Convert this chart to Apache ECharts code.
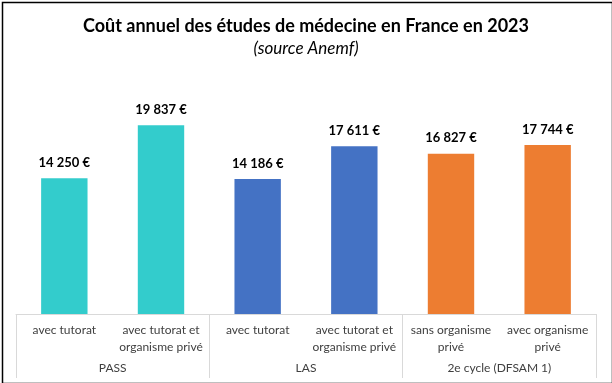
<!DOCTYPE html>
<html><head><meta charset="utf-8">
<script src="https://cdn.jsdelivr.net/npm/echarts@6/dist/echarts.min.js"></script>
<style>html,body{margin:0;padding:0;background:#fff}#c{width:612px;height:383px}</style>
</head><body><div id="c"></div>
<script>
var categories = ['avec tutorat', 'avec tutorat et\norganisme privé', 'avec tutorat', 'avec tutorat et\norganisme privé', 'sans organisme\nprivé', 'avec organisme\nprivé'];
var groups = ['PASS', 'LAS', '2e cycle (DFSAM 1)'];
var values = [14250, 19837, 14186, 17611, 16827, 17744];
var barColors = ['#33CCCC', '#33CCCC', '#4472C4', '#4472C4', '#ED7D31', '#ED7D31'];

function fmt(v) {
  return String(v).replace(/\B(?=(\d{3})+(?!\d))/g, ' ') + ' €';
}
var font = 'Lato';
var chart = echarts.init(document.getElementById('c'));
chart.setOption({
  animation: false,
  title: {
    text: 'Coût annuel des études de médecine en France en 2023',
    subtext: '(source Anemf)',
    left: 'center', top: 12, itemGap: 5,
    textStyle: {fontFamily: font, fontWeight: 'bold', fontSize: 18, color: '#000'},
    subtextStyle: {fontFamily: font, fontStyle: 'italic', fontSize: 17, color: '#000'}
  },
  grid: {left: 16, right: 16, top: 76, bottom: 69, containLabel: false},
  xAxis: [{
    type: 'category', data: categories,
    axisLine: {show: true, lineStyle: {color: '#D9D9D9', width: 1}},
    axisTick: {show: false},
    axisLabel: {fontFamily: font, fontSize: 12, color: '#404040', margin: 8, lineHeight: 17, interval: 0}
  }, {
    type: 'category', data: groups, position: 'bottom',
    axisLine: {show: false},
    axisTick: {show: true, length: 64, lineStyle: {color: '#D9D9D9'}},
    axisLabel: {fontFamily: font, fontSize: 12, color: '#404040', margin: 48, interval: 0}
  }],
  yAxis: {type: 'value', min: 0, max: 25000, show: false, splitLine: {show: false}},
  series: [{
    type: 'bar', xAxisIndex: 0, barWidth: '48%',
    data: values.map(function (v, i) { return {value: v, itemStyle: {color: barColors[i]}}; }),
    label: {show: true, position: 'top', distance: 9, formatter: function (p) { return fmt(p.value); },
      fontFamily: font, fontWeight: 'bold', fontSize: 13, color: '#000'}
  }],
  graphic: [{
    type: 'rect', left: 0, top: 0, shape: {x: 0.5, y: 0.5, width: 610, height: 381},
    style: {fill: 'none', stroke: '#000', lineWidth: 1.5}
  }]
});
</script></body></html>
